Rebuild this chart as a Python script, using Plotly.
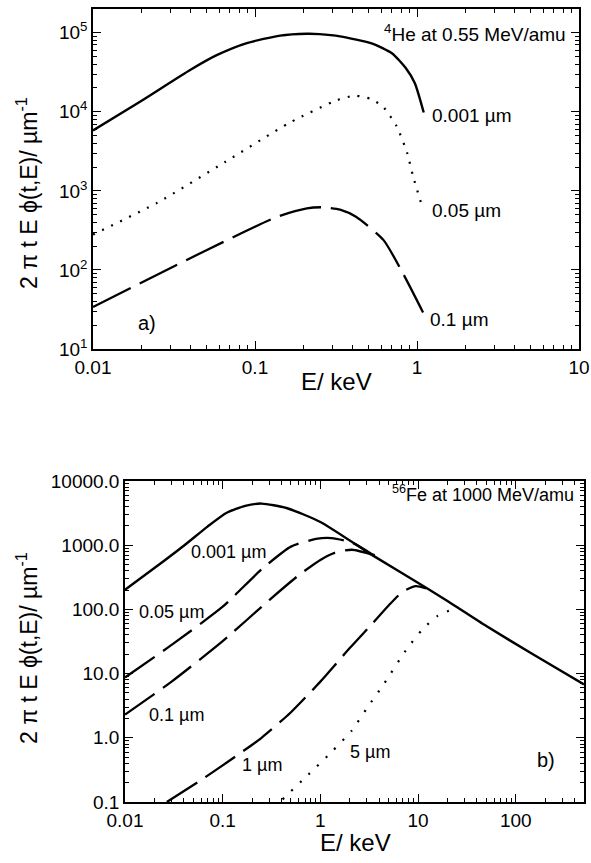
import plotly.graph_objects as go

# ---------------- data: panel a) 4He at 0.55 MeV/amu ----------------
a_E_001 = [0.01, 0.0195, 0.04, 0.058, 0.089, 0.143, 0.209, 0.25, 0.335, 0.53, 0.7, 0.85, 0.97, 1.1]
a_v_001 = [5.8e3, 1.34e4, 3.4e4, 5.2e4, 7.4e4, 9.2e4, 9.7e4, 9.6e4, 9.0e4, 7.3e4, 5.5e4, 3.6e4, 2.3e4, 9.8e3]

a_E_005 = [0.01, 0.025, 0.065, 0.164, 0.32, 0.414, 0.52, 0.62, 0.75, 0.87, 0.94, 1.09]
a_v_005 = [280, 710, 2.3e3, 7.3e3, 1.4e4, 1.6e4, 1.45e4, 1.15e4, 6.5e3, 3.0e3, 1.6e3, 580]

a_E_01 = [0.01, 0.048, 0.137, 0.209, 0.26, 0.335, 0.42, 0.62, 0.82, 1.09]
a_v_01 = [34, 170, 470, 600, 620, 580, 470, 240, 90, 29]

# ---------------- data: panel b) 56Fe at 1000 MeV/amu ----------------
b_E_0001 = [0.01, 0.02, 0.04, 0.07, 0.11, 0.17, 0.25, 0.45, 1.0, 3.4, 12.1, 20, 50, 150, 500]
b_v_0001 = [202, 440, 980, 1950, 3200, 4100, 4450, 3800, 2300, 700, 218, 135, 55, 20, 6.8]

b_E_005 = [0.01, 0.03, 0.1, 0.25, 0.5, 0.9, 1.3, 2.1, 3.4]
b_v_005 = [8.7, 28, 110, 420, 950, 1250, 1290, 1100, 720]

b_E_01 = [0.01, 0.03, 0.1, 0.3, 0.6, 1.0, 1.4, 2.1, 3.6]
b_v_01 = [2.3, 7.5, 32, 140, 340, 590, 760, 850, 700]

b_E_1 = [0.0268, 0.06, 0.12, 0.25, 0.5, 1.0, 2.0, 3.4, 5.0, 7.0, 9.5, 12.1]
b_v_1 = [0.1, 0.22, 0.45, 1.0, 2.5, 7.5, 25, 60, 115, 190, 230, 212]

b_E_5 = [0.41, 0.72, 1.3, 2.1, 3.0, 4.5, 7.5, 11, 16, 26]
b_v_5 = [0.11, 0.25, 0.6, 1.3, 2.9, 7, 23, 48, 80, 108]

a_xticks = [0.01, 0.1, 1, 10]
a_xticktext = ["0.01", "0.1", "1", "10"]
a_yticks = [10, 100, 1000, 10000, 100000]
a_yticktext = ["10<sup>1</sup>", "10<sup>2</sup>", "10<sup>3</sup>", "10<sup>4</sup>", "10<sup>5</sup>"]

b_xticks = [0.01, 0.1, 1, 10, 100]
b_xticktext = ["0.01", "0.1", "1", "10", "100"]
b_yticks = [0.1, 1, 10, 100, 1000, 10000]
b_yticktext = ["0.1", "1.0", "10.0", "100.0", "1000.0", "10000.0"]

W, H = 591, 863
FONT = "Liberation Sans, Arial, Helvetica, sans-serif"


def minor_vals(lo, hi):
    out = []
    for n in range(lo, hi + 1):
        for k in range(2, 10):
            out.append(k * 10.0 ** n)
    return out


def px(x):
    return x / W


def py(y):
    return 1 - y / H


fig = go.Figure()

solid = dict(color="black", width=2.4)
dotted_a = dict(color="black", width=2.2, dash="2px,8px")
dotted_b = dict(color="black", width=2.2, dash="2px,10px")
dashed_a = dict(color="black", width=2.3, dash="42px,10px")
dashed_b = dict(color="black", width=2.3, dash="36px,10px")
SM = dict(shape="spline", smoothing=0.6)

fig.add_trace(go.Scatter(x=a_E_001, y=a_v_001, mode="lines", line=dict(**solid, **SM), xaxis="x", yaxis="y"))
fig.add_trace(go.Scatter(x=a_E_005, y=a_v_005, mode="lines", line=dict(**dotted_a, **SM), xaxis="x", yaxis="y"))
fig.add_trace(go.Scatter(x=a_E_01, y=a_v_01, mode="lines", line=dict(**dashed_a, **SM), xaxis="x", yaxis="y"))

fig.add_trace(go.Scatter(x=b_E_0001, y=b_v_0001, mode="lines", line=dict(**solid, **SM), xaxis="x2", yaxis="y2"))
fig.add_trace(go.Scatter(x=b_E_005, y=b_v_005, mode="lines", line=dict(**dashed_b, **SM), xaxis="x2", yaxis="y2"))
fig.add_trace(go.Scatter(x=b_E_01, y=b_v_01, mode="lines", line=dict(**dashed_b, **SM), xaxis="x2", yaxis="y2"))
fig.add_trace(go.Scatter(x=b_E_1, y=b_v_1, mode="lines", line=dict(**dashed_b, **SM), xaxis="x2", yaxis="y2"))
fig.add_trace(go.Scatter(x=b_E_5, y=b_v_5, mode="lines", line=dict(**dotted_b, **SM), xaxis="x2", yaxis="y2"))

axis_common = dict(
    type="log", showgrid=False, zeroline=False, showline=True, linecolor="black",
    linewidth=1.5, mirror="allticks", ticks="inside", ticklen=8, tickwidth=1,
    tickcolor="black", tickmode="array", automargin=False,
    tickfont=dict(family=FONT, size=19, color="black"),
)

fig.update_layout(
    template="none",
    width=W, height=H, margin=dict(l=0, r=0, t=0, b=0, pad=0),
    paper_bgcolor="white", plot_bgcolor="white", showlegend=False,
    font=dict(family=FONT, color="black"),
    xaxis=dict(**axis_common, range=[-2, 1], domain=[px(93), px(579)], anchor="y",
               tickvals=a_xticks, ticktext=a_xticktext,
               minor=dict(ticks="inside", ticklen=4, tickcolor="black", tickvals=minor_vals(-2, 0))),
    yaxis=dict(**axis_common, range=[1, 5.3], domain=[py(349), py(9)], anchor="x",
               tickvals=a_yticks, ticktext=a_yticktext,
               minor=dict(ticks="inside", ticklen=4, tickcolor="black", tickvals=minor_vals(1, 5))),
    xaxis2=dict(**axis_common, range=[-2, 2.699], domain=[px(125), px(584)], anchor="y2",
                tickvals=b_xticks, ticktext=b_xticktext,
                minor=dict(ticks="inside", ticklen=4, tickcolor="black", tickvals=minor_vals(-2, 2))),
    yaxis2=dict(**axis_common, range=[-1, 4], domain=[py(802), py(481)], anchor="x2",
                tickvals=b_yticks, ticktext=b_yticktext,
                minor=dict(ticks="inside", ticklen=4, tickcolor="black", tickvals=minor_vals(-1, 3))),
)

mu = "\u00b5m"
ytitle = "2 \u03c0 t E \u03d5(t,E)/ \u00b5m<sup>-1</sup>"
ann = [
    # axis titles
    dict(x=px(336), y=py(381), text="E/ keV", size=24, xanchor="center", angle=0),
    dict(x=px(355), y=py(842), text="E/ keV", size=24, xanchor="center", angle=0),
    dict(x=px(27), y=py(193), text=ytitle, size=23, xanchor="center", angle=-90),
    dict(x=px(27), y=py(648), text=ytitle, size=23, xanchor="center", angle=-90),
    # panel a labels
    dict(x=px(568), y=py(33), text="<sup>4</sup>He at 0.55 MeV/amu", size=19, xanchor="right", angle=0),
    dict(x=px(430), y=py(116), text="0.001 " + mu, size=19, xanchor="left", angle=0),
    dict(x=px(430), y=py(210), text="0.05 " + mu, size=19, xanchor="left", angle=0),
    dict(x=px(428), y=py(319), text="0.1 " + mu, size=19, xanchor="left", angle=0),
    dict(x=px(136), y=py(323), text="a)", size=20, xanchor="left", angle=0),
    # panel b labels
    dict(x=px(576), y=py(494), text="<sup>56</sup>Fe at 1000 MeV/amu", size=18, xanchor="right", angle=0),
    dict(x=px(189), y=py(552), text="0.001 " + mu, size=18, xanchor="left", angle=0),
    dict(x=px(137), y=py(612), text="0.05 " + mu, size=18, xanchor="left", angle=0),
    dict(x=px(147), y=py(715), text="0.1 " + mu, size=18, xanchor="left", angle=0),
    dict(x=px(240), y=py(765), text="1 " + mu, size=18, xanchor="left", angle=0),
    dict(x=px(348), y=py(752), text="5 " + mu, size=18, xanchor="left", angle=0),
    dict(x=px(535), y=py(760), text="b)", size=20, xanchor="left", angle=0),
]
for a in ann:
    fig.add_annotation(
        x=a["x"], y=a["y"], xref="paper", yref="paper", text=a["text"],
        showarrow=False, xanchor=a["xanchor"], yanchor="middle", textangle=a["angle"],
        font=dict(family=FONT, size=a["size"], color="black"),
    )

fig.write_html("out.html")
